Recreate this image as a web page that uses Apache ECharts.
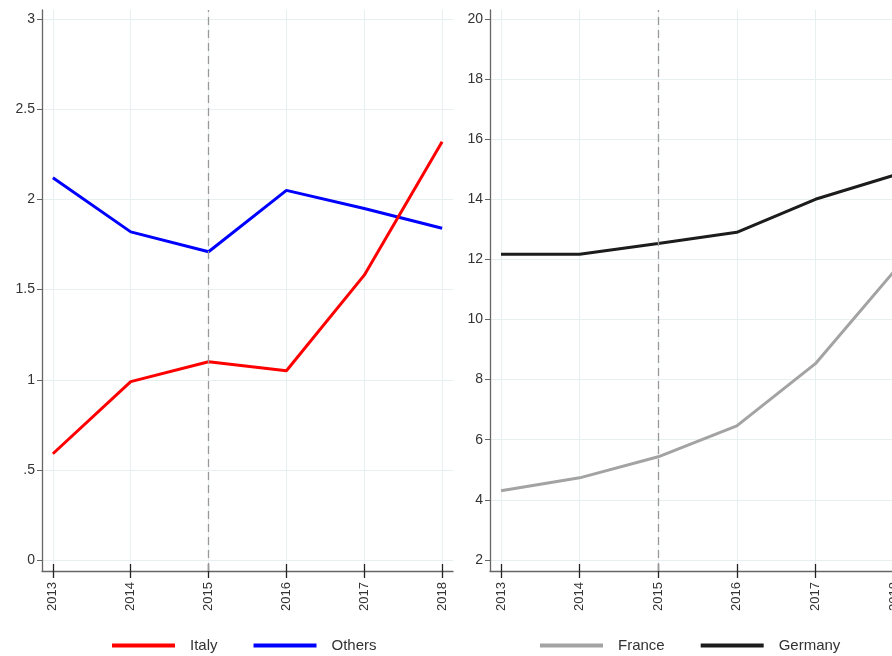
<!DOCTYPE html>
<html>
<head>
<meta charset="utf-8">
<script src="https://cdn.jsdelivr.net/npm/echarts@6/dist/echarts.min.js"></script>
<style>
  html, body { margin: 0; padding: 0; background: #fff; }
  #chart { width: 892px; height: 656px; }
</style>
</head>
<body>
<div id="chart"></div>
<script>
var years = [2013, 2014, 2015, 2016, 2017, 2018];
var italy = [0.59, 0.99, 1.10, 1.05, 1.58, 2.32];
var others = [2.12, 1.82, 1.71, 2.05, 1.95, 1.84];
var france = [4.3, 4.73, 5.43, 6.46, 8.53, 11.6];
var germany = [12.17, 12.17, 12.53, 12.9, 14.0, 14.8];
var leftTicks = [0, 0.5, 1, 1.5, 2, 2.5, 3];
var rightTicks = [2, 4, 6, 8, 10, 12, 14, 16, 18, 20];
var markYear = 2015;

function pairs(vals) {
  return years.map(function (y, i) { return [y, vals[i]]; });
}

var font = 'Liberation Sans';
var gridColor = '#e8eff1';
var axisColor = '#666';

// main axis draws line, outward ticks, labels; the overlay one only adds the inner half of each tick
function xAxisFor(idx, withLabels) {
  return {
    type: 'value', gridIndex: idx, min: 2012.86, max: 2018.14, position: 'bottom',
    axisLine: { show: true, onZero: false,
      lineStyle: { color: axisColor, width: 1.3, opacity: withLabels ? 1 : 0 } },
    axisTick: { show: true, inside: !withLabels, length: 7, customValues: years,
      lineStyle: { color: '#222', width: 1.3 } },
    axisLabel: { show: withLabels, customValues: years, rotate: 90, margin: 11,
      fontFamily: font, fontSize: 13, color: '#333', formatter: function (v) { return String(v); } },
    splitLine: { show: withLabels, lineStyle: { color: gridColor, width: 1 } }
  };
}

function yAxisFor(idx, min, max, ticks, fmt) {
  return {
    type: 'value', gridIndex: idx, min: min, max: max,
    axisLine: { show: true, onZero: false, lineStyle: { color: axisColor, width: 1.3 } },
    axisTick: { show: true, length: 5, customValues: ticks, lineStyle: { color: axisColor } },
    axisLabel: { customValues: ticks, margin: 7, fontFamily: font, fontSize: 14, color: '#333', formatter: fmt },
    splitLine: { show: true, lineStyle: { color: gridColor, width: 1 } }
  };
}

var vline = {
  silent: true, symbol: 'none', label: { show: false },
  lineStyle: { color: '#999', type: [8, 5], width: 1.3 },
  data: [{ xAxis: markYear }]
};

function lineSeries(name, vals, color, xi, yi, extra) {
  var s = {
    name: name, type: 'line', xAxisIndex: xi, yAxisIndex: yi,
    data: pairs(vals), showSymbol: false, symbol: 'none',
    lineStyle: { color: color, width: 3 }, itemStyle: { color: color }
  };
  if (extra) s.markLine = vline;
  return s;
}

var legendText = { fontFamily: font, fontSize: 15, color: '#333', padding: [0, 0, 0, 10] };

var option = {
  backgroundColor: '#fff',
  animation: false,
  grid: [
    { left: 42, right: 439, top: 10, bottom: 85, outerBoundsMode: 'none' },
    { left: 490, right: -13, top: 10, bottom: 85, outerBoundsMode: 'none' }
  ],
  legend: [
    { data: ['Italy', 'Others'], left: 107, top: 633, icon: 'rect', itemWidth: 63, itemHeight: 4,
      itemGap: 36, textStyle: legendText },
    { data: ['France', 'Germany'], left: 535, top: 633, icon: 'rect', itemWidth: 63, itemHeight: 4,
      itemGap: 36, textStyle: legendText }
  ],
  xAxis: [xAxisFor(0, true), xAxisFor(1, true), xAxisFor(0, false), xAxisFor(1, false)],
  yAxis: [
    yAxisFor(0, -0.06, 3.05, leftTicks, function (v) {
      if (v === 0) return '0';
      return v < 1 ? String(v).replace(/^0/, '') : String(v);
    }),
    yAxisFor(1, 1.63, 20.3, rightTicks, function (v) { return String(v); })
  ],
  series: [
    lineSeries('Others', others, '#0000ff', 0, 0, true),
    lineSeries('Italy', italy, '#ff0000', 0, 0, false),
    lineSeries('France', france, '#a3a3a3', 1, 1, true),
    lineSeries('Germany', germany, '#1c1c1c', 1, 1, false)
  ]
};

var chart = echarts.init(document.getElementById('chart'));
chart.setOption(option);
</script>
</body>
</html>
